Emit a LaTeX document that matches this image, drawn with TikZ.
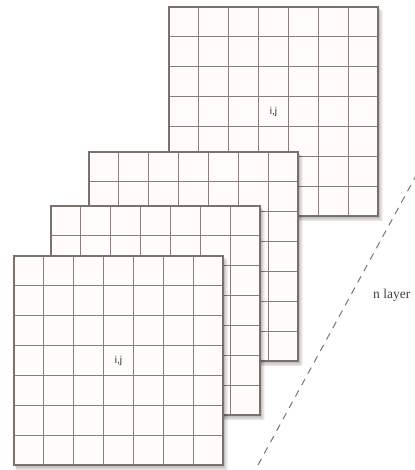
\documentclass[tikz,border=0pt]{standalone}
\usepackage{fontspec}
\setmainfont{Liberation Serif}
\newfontfamily\labfont{Liberation Sans}
\definecolor{gridc}{HTML}{8A7C77}
\definecolor{paper}{HTML}{FFFCFB}
\definecolor{dashc}{HTML}{7A7472}
\begin{document}
\begin{tikzpicture}[x=1pt,y=-1pt,
  gridline/.style={draw=gridc, line width=1.2pt},
  borderline/.style={draw=gridc!90!black, line width=1.5pt},
  ijlabel/.style={font=\labfont\fontsize{10}{12}\selectfont, text=black!85, inner sep=0pt},
  layerlabel/.style={font=\fontsize{13.5}{15}\selectfont, text=black!75, inner sep=0pt, anchor=base west},
  dashline/.style={draw=dashc, line width=1pt, dash pattern=on 7pt off 6pt},
  layer/.pic={
    \foreach \s in {1,...,6}{
      \fill[black, opacity=0.05] ({0.4*\s},{0.6*\s}) rectangle ({209+0.8*\s},{209+0.9*\s});
    }
    \fill[paper] (0,0) rectangle (209,209);
    \foreach \k in {1,...,6}{
      \draw[gridline] ({\k*209/7},0) -- ({\k*209/7},209);
      \draw[gridline] (0,{\k*209/7}) -- (209,{\k*209/7});
    }
    \draw[borderline] (0,0) rectangle (209,209);
  }]
\useasboundingbox (0,0) rectangle (414,470);
\fill[white] (0,0) rectangle (414,470);
% layers, back to front
\pic (back) at (169,7) {layer};
\pic (second) at (89,152) {layer};
\pic (third) at (51,206) {layer};
\pic (front) at (14,256) {layer};
% labels
\node[ijlabel] (ijback) at (273.5,111.5) {i,j};
\node[ijlabel] (ijfront) at (118.5,361) {i,j};
% dashed divider
\coordinate (dashbot) at (258,465);
\coordinate (dashtop) at (418,172);
\draw[dashline] (dashbot) -- (dashtop);
\node[layerlabel] (nlayer) at (373,298.5) {n layer};
\end{tikzpicture}
\end{document}
